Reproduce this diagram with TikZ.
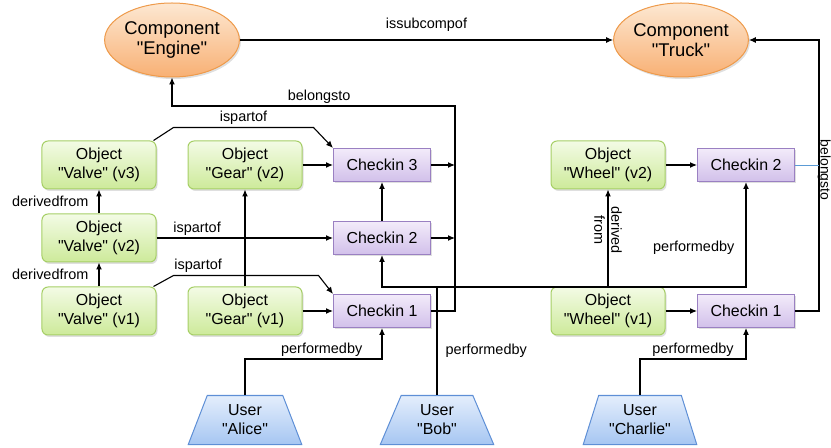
\documentclass[tikz,border=0pt]{standalone}
\usepackage{fontspec}
\setmainfont{Liberation Sans}
\usetikzlibrary{arrows.meta,shapes.geometric,shadows}

\definecolor{compline}{HTML}{EE9A4A}
\definecolor{comptop}{HTML}{FDE8D2}
\definecolor{compbot}{HTML}{F8B074}
\definecolor{objline}{HTML}{A6CF66}
\definecolor{objtop}{HTML}{F3FBE5}
\definecolor{objbot}{HTML}{CDEA9A}
\definecolor{chkline}{HTML}{9A80C2}
\definecolor{chktop}{HTML}{F2EBFA}
\definecolor{chkbot}{HTML}{D2C0EA}
\definecolor{userline}{HTML}{5E8FD6}
\definecolor{usertop}{HTML}{E4EEFC}
\definecolor{userbot}{HTML}{A6C6F2}
\definecolor{bluewire}{HTML}{5B9BD5}

% straight double quotes round a name
\newcommand{\qname}[1]{\textquotedbl{}#1\textquotedbl{}}

\begin{document}
\begin{tikzpicture}[x=1bp, y=-1bp, line width=1.1bp, >={Latex[length=7bp,width=6bp]},
  shade/.style={drop shadow={opacity=0.25, shadow xshift=1.5bp, shadow yshift=-2bp}},
  comp/.style={ellipse, draw=compline, line width=1bp, top color=comptop, bottom color=compbot,
    minimum width=130bp, minimum height=74bp, inner sep=0pt, align=center,
    font=\fontsize{18.5}{20.5}\selectfont, shade},
  obj/.style={rectangle, rounded corners=6bp, draw=objline, line width=1bp, top color=objtop,
    bottom color=objbot, minimum width=114bp, minimum height=48bp, inner sep=0pt,
    align=center, font=\fontsize{16}{19}\selectfont, shade},
  chk/.style={rectangle, draw=chkline, line width=1bp, top color=chktop, bottom color=chkbot,
    minimum width=97bp, minimum height=33bp, inner sep=0pt, font=\fontsize{16}{19}\selectfont, shade},
  user/.style={trapezium, trapezium left angle=69, trapezium right angle=69, trapezium stretches=true,
    draw=userline, line width=1bp, top color=usertop, bottom color=userbot,
    minimum width=114bp, minimum height=49bp, inner sep=0pt, align=center,
    font=\fontsize{16}{19}\selectfont},
  lbl/.style={font=\fontsize{14.5}{17}\selectfont, inner sep=2bp}]

  \useasboundingbox (0,0) rectangle (831,448);

  % Components
  \node[comp] (eng) at (172,40) {Component\\\qname{Engine}};
  \node[comp] (trk) at (681,40) {Component\\\qname{Truck}};

  % Objects and checkins of the engine
  \node[obj] (v3) at (99,165) {Object\\\qname{Valve} (v3)};
  \node[obj] (g2) at (245,165) {Object\\\qname{Gear} (v2)};
  \node[chk] (c3) at (382,165) {Checkin 3};
  \node[obj] (v2) at (99,238) {Object\\\qname{Valve} (v2)};
  \node[chk] (c2) at (382,238) {Checkin 2};
  \node[obj] (v1) at (99,311) {Object\\\qname{Valve} (v1)};
  \node[obj] (g1) at (245,311) {Object\\\qname{Gear} (v1)};
  \node[chk] (c1) at (382,311) {Checkin 1};

  % Objects and checkins of the truck
  \node[obj] (w2) at (608,165) {Object\\\qname{Wheel} (v2)};
  \node[chk] (rc2) at (746,165) {Checkin 2};
  \node[obj] (w1) at (608,311) {Object\\\qname{Wheel} (v1)};
  \node[chk] (rc1) at (746,311) {Checkin 1};

  % Users
  \node[user] (alice) at (245,420) {User\\\qname{Alice}};
  \node[user] (bob) at (437,420) {User\\\qname{Bob}};
  \node[user] (charlie) at (640,420) {User\\\qname{Charlie}};

  \coordinate (bl) at (455,106);
  \coordinate (br) at (819,40);

  % Component links
  \draw[->] (eng) -- (trk) node[lbl, midway, above=6bp] {issubcompof};
  \draw[->] (c1.east) -| (bl) -| (eng.south) node[lbl, pos=0.24, above] {belongsto};
  \draw[->] (c3.east) -- (c3.east -| bl);
  \draw[->] (c2.east) -- (c2.east -| bl);
  \draw[->] (rc1.east) -| (br) -- (trk.east);
  \draw[bluewire, line width=0.8bp] (rc2.east) -- (rc2.east -| br);
  \node[lbl, font=\fontsize{14}{16}\selectfont, rotate=-90, anchor=base, inner sep=0pt] (btlbl) at (820.5,170) {belongsto};

  % Valve versions
  \draw[->] (v1) -- (v2) node[lbl, midway, left=8bp] {derivedfrom};
  \draw[->] (v2) -- (v3) node[lbl, midway, left=8bp] {derivedfrom};

  % Part-of links
  \draw[->] ([xshift=-3bp]v3.north east) -- ++(20,-13) -- ++(140,0) node[lbl, midway, above] {ispartof} -- (c3.north west);
  \draw[->] (v2) -- (c2) node[lbl, pos=0.23, above] {ispartof};
  \draw[->] ([xshift=-3bp]v1.north east) -- ++(20,-11) -- ++(145,0) node[lbl, pos=0.17, above] {ispartof} -- (c1.north west);
  \draw[->] (g1) -- (g2);
  \draw[->] (g2) -- (c3);
  \draw[->] (g1) -- (c1);
  \draw[->] (c2) -- (c3);

  % Wheel versions
  \draw[->] (w1) -- (w2) node[lbl, pos=0.58, rotate=-90, align=center] {derived\\from};
  \draw[->] (w2) -- (rc2);
  \draw[->] (w1) -- (rc1);

  % Performed by
  \draw[->] (alice.north) -- ++(0,-36) -| (c1.south) node[lbl, pos=0.28, above] {performedby};
  \draw[->, line width=1.6bp] (bob.north) -- ++(0,-108) -| (c2.south);
  \draw[->, line width=1.4bp] (bob.north) -- ++(0,-108) node[lbl, pos=0.41, right=6bp] {performedby} -| (rc2.south) node[lbl, pos=0.685, left=9bp] {performedby};
  \draw[->] (charlie.north) -- ++(0,-36) -| (rc1.south) node[lbl, pos=0.25, above] {performedby};
\end{tikzpicture}
\end{document}
